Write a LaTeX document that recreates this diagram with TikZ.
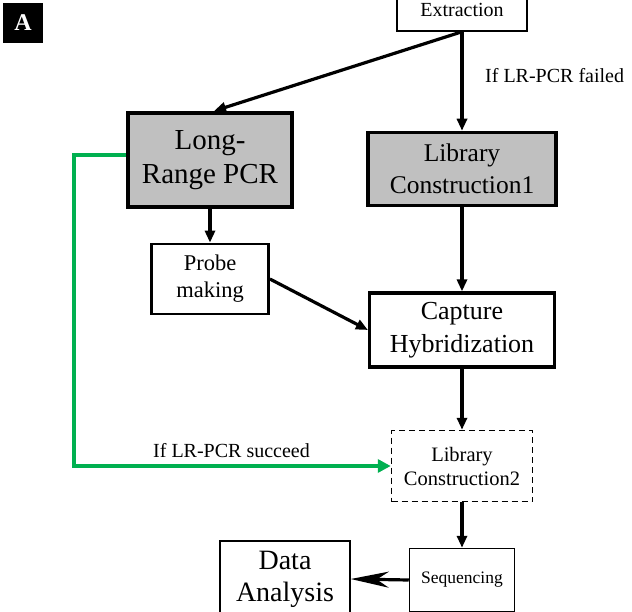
\documentclass[tikz,border=0pt]{standalone}
\usepackage{fontspec}
\setmainfont{Liberation Serif}
\usetikzlibrary{arrows.meta}
\begin{document}
\begin{tikzpicture}[x=1pt, y=-1pt,
  box/.style={draw, align=center, inner sep=0pt},
  arr/.style={-{Triangle[length=12pt, width=10pt]}, line width=3.2pt},
  lbl/.style={font=\fontsize{20}{24}\selectfont, inner sep=0pt}]
\definecolor{grn}{HTML}{00B050}
\definecolor{gry}{HTML}{C0C0C0}
\useasboundingbox (0,0) rectangle (632,612);
\node[fill=black, text=white, minimum size=40pt, inner sep=0pt, font=\fontsize{24}{24}\selectfont\bfseries] (tag) at (23,23) {A};
\node[box, line width=1.5pt, minimum width=130pt, minimum height=42pt, font=\fontsize{20}{24}\selectfont] (ext) at (462,10) {Extraction};
\node[box, fill=gry, line width=4pt, minimum width=164pt, minimum height=94pt, font=\fontsize{29}{34}\selectfont] (lrpcr) at (210,160) {Long-\\Range PCR};
\node[box, fill=gry, line width=3.5pt, minimum width=188pt, minimum height=73pt, font=\fontsize{25.5}{32}\selectfont] (lib1) at (462,169) {Library\\Construction1};
\node[box, line width=2.8pt, minimum width=117pt, minimum height=70pt, font=\fontsize{22.5}{27}\selectfont] (probe) at (210,279) {Probe\\making};
\node[box, line width=3.2pt, minimum width=185pt, minimum height=74pt, font=\fontsize{26}{33}\selectfont] (cap) at (462,330) {Capture\\Hybridization};
\node[box, dash pattern=on 6pt off 4pt, line width=1.5pt, minimum width=141pt, minimum height=71pt, font=\fontsize{20.5}{24}\selectfont] (lib2) at (462,466) {Library\\Construction2};
\node[box, line width=1.5pt, minimum width=105pt, minimum height=63pt, font=\fontsize{17.5}{21}\selectfont] (seq) at (462,580) {Sequencing};
\node[box, line width=1.5pt, minimum width=130pt, minimum height=76pt, font=\fontsize{28}{32}\selectfont] (data) at (285,579) {Data\\Analysis};
\node[lbl, anchor=west] (fail) at (485,76) {If LR-PCR failed};
\node[lbl, anchor=west] (ok) at (153,451) {If LR-PCR succeed};
\draw[arr] (ext.south) -- (lib1.north);
\draw[arr] (ext.south) -- ([xshift=4pt]lrpcr.north);
\draw[arr] (lrpcr.south) -- (probe.north);
\draw[arr] (lib1.south) -- (cap.north);
\draw[arr] (probe.east) -- (cap.west);
\draw[arr] (cap.south) -- (lib2.north);
\draw[arr] (lib2.south) -- (seq.north);
\draw[-{Stealth[length=38pt, width=16pt, inset=12pt]}, line width=3.2pt] (seq.west) -- (data.east);
\draw[grn, line width=4pt, -{Triangle[length=13pt, width=13pt]}] ([yshift=5pt]lrpcr.west) -- (74,155) |- (lib2.west);
\end{tikzpicture}
\end{document}
